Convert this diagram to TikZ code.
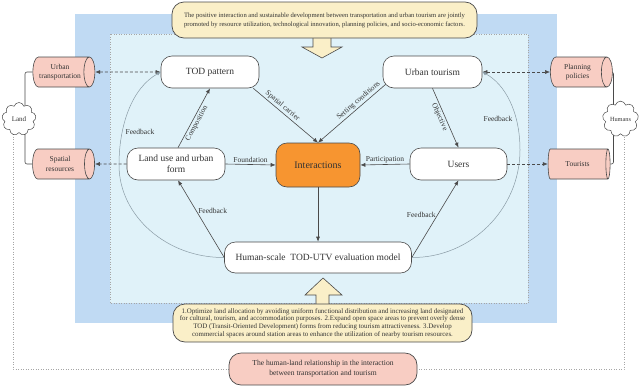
\documentclass[tikz,border=0pt]{standalone}
\usepackage{fontspec}
\setmainfont{Liberation Serif}
\usetikzlibrary{arrows.meta,shapes.geometric,shapes.symbols}
\pgfdeclarelayer{back}
\pgfdeclarelayer{mid}
\pgfsetlayers{back,mid,main}
\definecolor{blueo}{HTML}{C0DAF3}
\definecolor{cyani}{HTML}{E0F2F9}
\definecolor{yelc}{HTML}{FAEFC8}
\definecolor{pinkc}{HTML}{F8CDC3}
\definecolor{orangec}{HTML}{F79530}
\definecolor{bordc}{HTML}{4A4A4A}
\definecolor{txt}{HTML}{333333}
\definecolor{arcc}{HTML}{8A9BA5}
\begin{document}
\begin{tikzpicture}[x=1pt,y=-1pt,
  box/.style={draw=bordc, line width=0.6pt, fill=white, rounded corners=11pt, minimum height=32pt, inner sep=1pt, align=center, text=txt, font=\fontsize{9.5}{11}\selectfont},
  cyl/.style={cylinder, draw=bordc, line width=0.6pt, fill=pinkc, aspect=0.6, minimum width=30pt, minimum height=62pt, inner sep=1pt, align=center, text=txt, font=\fontsize{7.5}{9.5}\selectfont},
  cloudbox/.style={cloud, cloud puffs=9, draw=bordc, line width=0.5pt, fill=white, inner sep=0pt, text=txt},
  note/.style={draw=bordc, line width=0.7pt, fill=yelc, rounded corners=12pt, align=center, text=txt, inner sep=1pt},
  lab/.style={font=\fontsize{7.5}{9}\selectfont, text=txt, inner sep=1.5pt},
  arr/.style={draw=bordc, line width=0.6pt, -{Latex[length=5pt,width=4pt]}},
  darr/.style={draw=bordc, line width=0.6pt, dash pattern=on 3pt off 2pt},
  arcl/.style={draw=arcc, line width=0.5pt, -{Latex[length=4pt,width=3.5pt]}},
  dotl/.style={draw=gray!70, line width=0.5pt, dotted},
  blockarrow/.style={draw=bordc, line width=0.6pt, fill=yelc}
]
\useasboundingbox (0,0) rectangle (639,386);
\begin{pgfonlayer}{back}
\fill[blueo] (75,14) rectangle (557,323);
\fill[cyani] (110,34) rectangle (528,303);
\draw[dotl] (110,34) rectangle (528,303);
\end{pgfonlayer}

% top and bottom notes
\node[note, minimum width=305pt, minimum height=36pt, font=\fontsize{6.6}{9}\selectfont] (top) at (324.5,20)
 {The positive interaction and sustainable development between transportation and urban tourism are jointly\\promoted by resource utilization, technological innovation, planning policies, and socio-economic factors.};
\node[note, minimum width=299pt, minimum height=38pt, font=\fontsize{6.9}{7.7}\selectfont] (bot) at (322.5,323)
 {1.Optimize land allocation by avoiding uniform functional distribution and increasing land designated\\for cultural, tourism, and accommodation purposes. 2.Expand open space areas to prevent overly dense\\TOD (Transit-Oriented Development) forms from reducing tourism attractiveness. 3.Develop\\commercial spaces around station areas to enhance the utilization of nearby tourism resources.};
\node[note, fill=pinkc, minimum width=188pt, minimum height=32pt, font=\fontsize{7.6}{9.8}\selectfont] (hl) at (323,369)
 {The human-land relationship in the interaction\\between transportation and tourism};

% main nodes
\node[box, minimum width=98pt] (TOD) at (210,72) {TOD pattern};
\node[box, minimum width=98pt] (LU) at (176,164) {Land use and urban\\form};
\node[box, minimum width=84pt, minimum height=44pt, fill=orangec, font=\fontsize{10}{12}\selectfont] (INT) at (318,165) {Interactions};
\node[box, minimum width=99pt] (UTo) at (432.5,72) {Urban tourism};
\node[box, minimum width=97pt] (US) at (458.5,164) {Users};
\node[box, minimum width=187pt, minimum height=31pt] (MOD) at (318,257.5) {Human-scale\ \ TOD-UTV evaluation model};

% side nodes
\node[cyl] (UTr) at (60,72) {Urban\\transportation};
\node[cyl] (SR) at (60,164) {Spatial\\resources};
\node[cyl] (PP) at (577.5,72) {Planning\\policies};
\node[cyl] (TO) at (577.5,164) {Tourists};
\node[cloudbox, minimum width=34pt, minimum height=33pt, font=\fontsize{7}{8}\selectfont] (Land) at (19,119) {Land};
\node[cloudbox, minimum width=36pt, minimum height=32pt, font=\fontsize{6.3}{8}\selectfont] (Hum) at (620.5,119) {Humans};

\begin{pgfonlayer}{mid}
% block arrows
\draw[blockarrow] (313,36) -- (331,36) -- (331,47) -- (342,47) -- (322,58) -- (302,47) -- (313,47) -- cycle;
\draw[blockarrow] (316,306) -- (329,306) -- (329,295) -- (342,295) -- (323,278) -- (305,295) -- (316,295) -- cycle;
% cloud links
\draw[draw=bordc, line width=0.6pt, rounded corners=2pt] ([xshift=6pt]Land.center) |- (UTr.west);
\draw[draw=bordc, line width=0.6pt, rounded corners=2pt] ([xshift=6pt]Land.center) |- (SR.west);
\draw[draw=bordc, line width=0.6pt, rounded corners=2pt] ([xshift=-7pt]Hum.center) |- (PP.east);
\draw[draw=bordc, line width=0.6pt, rounded corners=2pt] ([xshift=-7pt]Hum.center) |- (TO.east);
% outer dotted lines
\draw[dotl] ([xshift=-6pt]Land.center) |- (hl.west);
\draw[dotl] ([xshift=3.5pt]Hum.center) |- (hl.east);
\end{pgfonlayer}

% dashed links
\draw[darr, {Latex[length=5pt,width=4pt]}-{Latex[length=5pt,width=4pt]}] (UTr.east) -- (TOD.west);
\draw[darr, -{Latex[length=5pt,width=4pt]}] (LU.west) -- (SR.east);
\draw[darr, {Latex[length=5pt,width=4pt]}-{Latex[length=5pt,width=4pt]}] (UTo.east) -- (PP.west);
\draw[darr, -{Latex[length=5pt,width=4pt]}] (US.east) -- (TO.west);

% solid arrows
\draw[arr] ([xshift=2pt]LU.north) -- node[lab, sloped, below, pos=0.45] {Composition} (TOD.south);
\draw[arr] ([xshift=-6pt]TOD.south east) -- node[lab, sloped, above, pos=0.4] {Spatial carrier} (INT.north);
\draw[arr] ([xshift=3pt,yshift=4pt]UTo.south west) -- node[lab, sloped, above, pos=0.35] {Setting conditions} (INT.north);
\draw[arr] (UTo.south) -- node[lab, sloped, below, pos=0.45] {Objective} (US.north);
\draw[arr] (LU.east) -- node[lab, above] {Foundation} (INT.west);
\draw[arr] (US.west) -- node[lab, above] {Participation} (INT.east);
\draw[arr] (INT.south) -- (MOD.north);
\draw[arr] (MOD.west) -- node[lab, right, pos=0.6] {Feedback} ([xshift=2pt]LU.south);
\draw[arr] (MOD.east) -- node[lab, left, pos=0.55] {Feedback} (US.south);

% feedback arcs
\draw[arcl] (MOD.west) .. controls (167,258) and (119,216) .. (119,165) .. controls (119,125) and (132,88) .. (TOD.west);
\draw[arcl] (MOD.east) .. controls (471,258) and (520,209) .. (520,150) .. controls (520,112) and (505,84) .. (UTo.east);
\node[lab] (fbl) at (140,132) {Feedback};
\node[lab] (fbr) at (498,119) {Feedback};
\end{tikzpicture}
\end{document}
